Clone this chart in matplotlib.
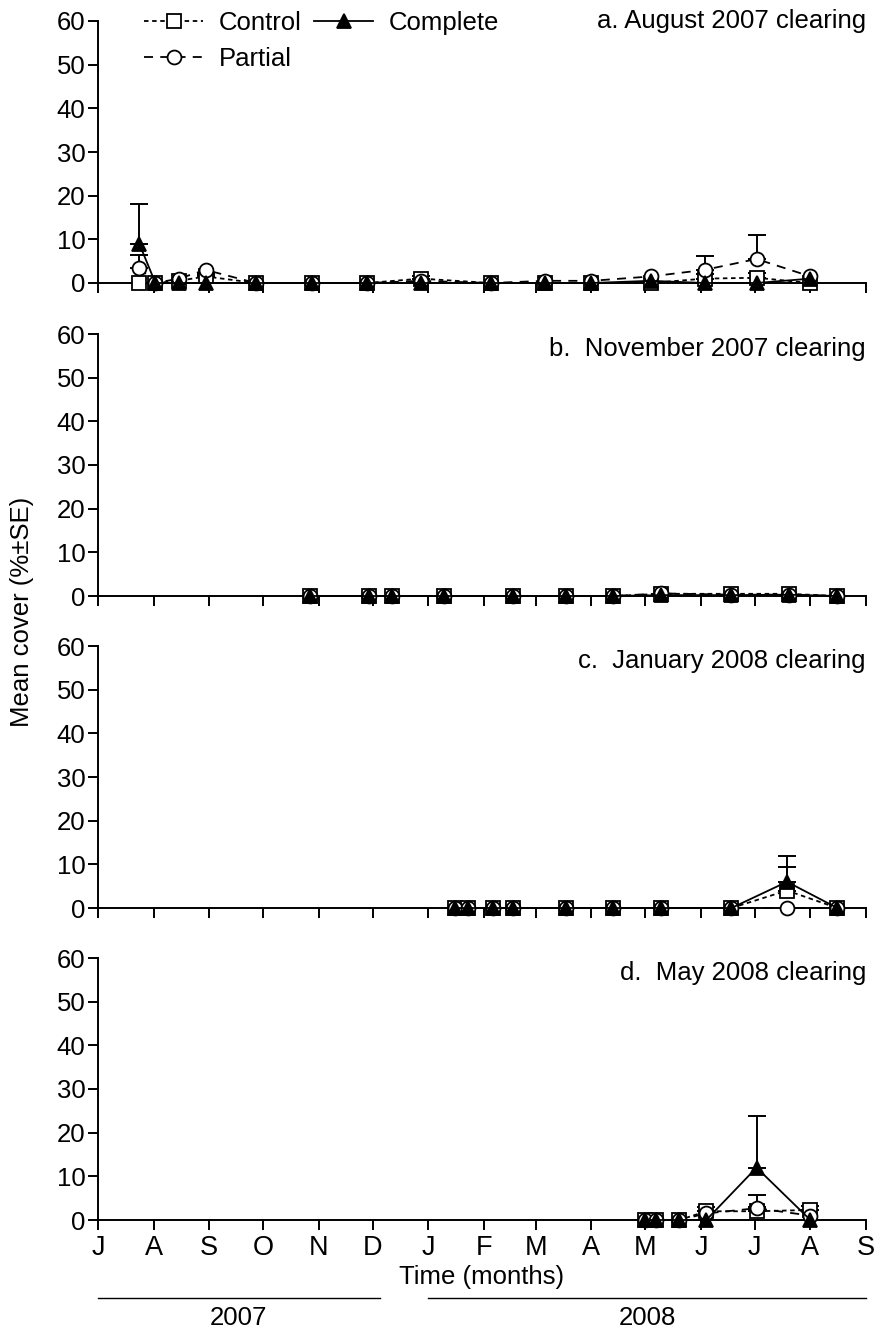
import matplotlib
matplotlib.use('Agg')
import matplotlib.pyplot as plt
import matplotlib.dates as mdates
import matplotlib.transforms as mtransforms
from matplotlib.lines import Line2D
import numpy as np
import pandas as pd

plt.rcParams['font.family'] = ['Liberation Sans', 'DejaVu Sans']
FS = 18.5

# a. August 2007 clearing
a_dates = ['2007-07-24', '2007-08-02', '2007-08-15', '2007-08-30', '2007-09-27',
           '2007-10-28', '2007-11-28', '2007-12-28', '2008-02-05', '2008-03-06',
           '2008-04-01', '2008-05-04', '2008-06-03', '2008-07-02', '2008-08-01']
a_control = [0, 0, 0.5, 1.5, 0, 0, 0, 1, 0, 0, 0, 0, 1, 1.2, 0]
a_control_se = [0, 0, 0, 0.5, 0, 0, 0, 0.5, 0, 0, 0, 0, 1, 1, 0]
a_complete = [9, 0, 0, 0, 0, 0, 0, 0, 0, 0, 0, 0.5, 0, 0, 1]
a_complete_se = [9, 0, 0, 0, 0, 0, 0, 0, 0, 0, 0, 0, 0, 0, 0]
a_partial = [3.5, 0, 1, 3, 0, 0, 0, 0.5, 0, 0.5, 0.5, 1.5, 3, 5.5, 1.5]
a_partial_se = [3, 0, 0, 0, 0, 0, 0, 0, 0, 0, 0, 0, 3.2, 5.5, 0]

# b. November 2007 clearing
b_dates = ['2007-10-27', '2007-11-29', '2007-12-12', '2008-01-10', '2008-02-17',
           '2008-03-18', '2008-04-13', '2008-05-10', '2008-06-18', '2008-07-20',
           '2008-08-16']
b_control = [0, 0, 0, 0, 0, 0, 0, 0.5, 0.5, 0.5, 0]
b_control_se = [0] * 11
b_complete = [0, 0, 0, 0, 0, 0, 0, 0.2, 0.2, 0.3, 0]
b_complete_se = [0] * 11
b_partial = [0, 0, 0, 0, 0, 0, 0, 0.6, 0.3, 0.3, 0]
b_partial_se = [0] * 11

# c. January 2008 clearing
c_dates = ['2008-01-16', '2008-01-23', '2008-02-06', '2008-02-17', '2008-03-18',
           '2008-04-13', '2008-05-10', '2008-06-18', '2008-07-19', '2008-08-16']
c_control = [0, 0, 0, 0, 0, 0, 0, 0, 4, 0]
c_control_se = [0, 0, 0, 0, 0, 0, 0, 0, 5.4, 0]
c_complete = [0, 0, 0, 0, 0, 0, 0, 0, 6, 0]
c_complete_se = [0, 0, 0, 0, 0, 0, 0, 0, 6, 0]
c_partial = [0] * 10
c_partial_se = [0] * 10

# d. May 2008 clearing
d_dates = ['2008-05-01', '2008-05-07', '2008-05-20', '2008-06-04', '2008-07-02', '2008-08-01']
d_control = [0, 0, 0, 2, 2, 2.3]
d_control_se = [0, 0, 0, 1, 1, 1]
d_complete = [0, 0, 0, 0, 12, 0]
d_complete_se = [0, 0, 0, 0, 11.8, 0]
d_partial = [0, 0, 0, 1.5, 2.7, 1]
d_partial_se = [0, 0, 0, 0, 3, 0]

panels = [
    ('a. August 2007 clearing', a_dates, a_control, a_control_se, a_complete, a_complete_se, a_partial, a_partial_se),
    ('b.  November 2007 clearing', b_dates, b_control, b_control_se, b_complete, b_complete_se, b_partial, b_partial_se),
    ('c.  January 2008 clearing', c_dates, c_control, c_control_se, c_complete, c_complete_se, c_partial, c_partial_se),
    ('d.  May 2008 clearing', d_dates, d_control, d_control_se, d_complete, d_complete_se, d_partial, d_partial_se),
]

month_letters = ['J', 'A', 'S', 'O', 'N', 'D', 'J', 'F', 'M', 'A', 'M', 'J', 'J', 'A', 'S']
month_starts = pd.date_range('2007-07-01', '2008-09-01', freq='MS')

styles = {
    'control': dict(ls=(0, (2.5, 2)), marker='s', mfc='white', ms=9.5, zorder=3),
    'partial': dict(ls=(0, (5, 4)), marker='o', mfc='white', ms=10, zorder=4),
    'complete': dict(ls='-', marker='^', mfc='black', ms=9.5, zorder=5),
}

W, H = 874, 1330
fig = plt.figure(figsize=(W / 100, H / 100), dpi=100)

left_px, right_px = 98, 866
zero_px = [283, 596, 908, 1220]
height_px = 262

axes = []
for i, (title, dates, ctl, ctl_se, cmp_, cmp_se, par, par_se) in enumerate(panels):
    ax = fig.add_axes([left_px / W, 1 - zero_px[i] / H, (right_px - left_px) / W, height_px / H])
    axes.append(ax)
    x = pd.to_datetime(dates)

    handles = {}
    for key, y, se in [('control', ctl, ctl_se), ('partial', par, par_se), ('complete', cmp_, cmp_se)]:
        st = styles[key]
        y = np.array(y, dtype=float)
        se = np.array(se, dtype=float)
        line, = ax.plot(x, y, color='black', lw=1.3, mec='black', mew=1.3, clip_on=False, **st)
        handles[key] = line
        m = se > 0
        if m.any():
            ax.errorbar(x[m], y[m], yerr=[np.zeros(m.sum()), se[m]], fmt='none', ecolor='black',
                        elinewidth=1.4, capsize=6.5, capthick=1.4, zorder=st['zorder'] - 0.5, clip_on=False)

    ax.set_ylim(0, 60)
    ax.set_yticks(range(0, 61, 10))
    ax.set_xlim(pd.Timestamp('2007-07-01'), pd.Timestamp('2008-09-01'))
    ax.set_xticks(month_starts)
    ax.spines['top'].set_visible(False)
    ax.spines['right'].set_visible(False)
    ax.spines['left'].set_linewidth(1.4)
    ax.spines['bottom'].set_linewidth(1.4)
    ax.tick_params(direction='out', length=7, width=1.4, labelsize=FS, pad=2)
    if i < 3:
        ax.set_xticklabels([])
    else:
        ax.set_xticklabels(month_letters)
        ax.tick_params(axis='x', pad=4, labelsize=FS + 1)

    ty = 60 if i == 0 else 56.5
    ax.text(1.0, ty, title, transform=mtransforms.blended_transform_factory(ax.transAxes, ax.transData),
            ha='right', va='center', fontsize=FS)

    if i == 0:
        ax.legend([handles['control'], handles['partial'], handles['complete']],
                  ['Control', 'Partial', 'Complete'], ncol=2, frameon=False,
                  loc='upper left', bbox_to_anchor=(0.03, 1.125), fontsize=FS,
                  handlelength=2.3, handletextpad=0.6, columnspacing=0.5, labelspacing=0.45)

bottom = axes[-1]
bottom.set_xlabel('Time (months)', fontsize=FS, labelpad=3)

fig.text(22 / W, 1 - 612 / H, 'Mean cover (%\u00b1SE)', rotation=90, ha='center', va='center', fontsize=FS)

# year bars under the month axis
trans = mtransforms.blended_transform_factory(bottom.transData, fig.transFigure)
year_y = 1 - 1298 / H
for start, end, label in [('2007-07-01', '2007-12-05', '2007'), ('2008-01-01', '2008-09-01', '2008')]:
    s, e = pd.Timestamp(start), pd.Timestamp(end)
    fig.add_artist(Line2D([mdates.date2num(s), mdates.date2num(e)], [year_y, year_y],
                          transform=trans, color='black', lw=1.0))
    mid = mdates.date2num(s) + (mdates.date2num(e) - mdates.date2num(s)) / 2
    fig.text(mid, 1 - 1318 / H, label, transform=trans, ha='center', va='center', fontsize=FS)

fig.savefig('out.png', dpi=100)
